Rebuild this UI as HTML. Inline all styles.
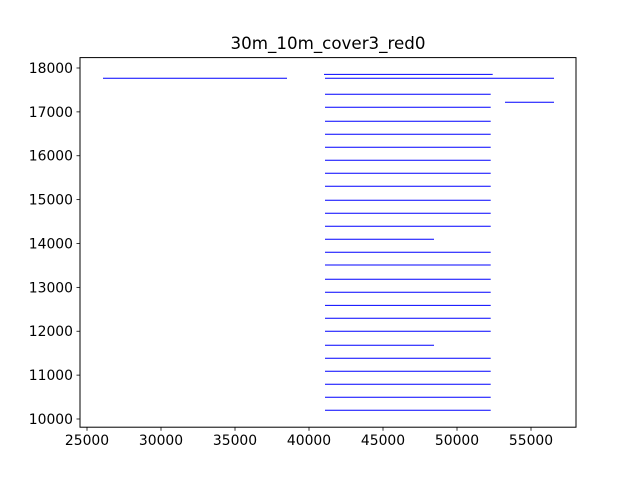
<!DOCTYPE html>
<html><head><meta charset="utf-8"><style>
body{margin:0;background:#fff;}
svg{display:block;font-family:"DejaVu Sans","Liberation Sans",sans-serif;}
</style></head><body>
<svg id="chart" width="640" height="480" viewBox="0 0 640 480">
<rect x="0" y="0" width="640" height="480" fill="#fff"/>
<text x="328" y="49" text-anchor="middle" font-size="16.7">30m_10m_cover3_red0</text>
<g id="marks"></g>
<g id="axes"></g>
</svg>
<script>
const segY = [17856,17765,17765,17401,17218,17104,16785,16489,16193,15896,15600,15304,14985,14689,14393,14096,13800,13510,13184,12888,12591,12295,11999,11680,11384,11088,10791,10495,10199];
const segX0 = [41014,26081,41081,41081,53243,41081,41081,41081,41081,41081,41081,41081,41081,41081,41081,41081,41081,41081,41081,41081,41081,41081,41081,41081,41081,41081,41081,41081,41081];
const segX1 = [52412,38514,56554,52277,56554,52277,52277,52277,52277,52277,52277,52277,52277,52277,52277,48446,52277,52277,52277,52277,52277,52277,52277,48446,52277,52277,52277,52277,52277];
const xTicks = [25000,30000,35000,40000,45000,50000,55000];
const yTicks = [10000,11000,12000,13000,14000,15000,16000,17000,18000];

const L=80,R=576,T=57.6,B=427.2;
const xmin=24527,xmax=58040,ymin=9813,ymax=18237;
const sx=v=>L+(v-xmin)/(xmax-xmin)*(R-L);
const sy=v=>B-(v-ymin)/(ymax-ymin)*(B-T);
const NS="http://www.w3.org/2000/svg";
const marks=document.getElementById('marks');
const axes=document.getElementById('axes');
function mk(tag,attrs,parent){const e=document.createElementNS(NS,tag);for(const k in attrs)e.setAttribute(k,attrs[k]);parent.appendChild(e);return e;}
segY.forEach((y,i)=>{
  const l=mk('line',{x1:sx(segX0[i]),x2:sx(segX1[i]),y1:sy(y),y2:sy(y),stroke:'#0000ff','stroke-width':1},marks);
  
  
});
const frame=mk('rect',{x:L,y:T,width:R-L,height:B-T,fill:'none',stroke:'#000','stroke-width':1},axes);


xTicks.forEach(v=>{
  const x=sx(v);
  const t=mk('line',{x1:x,x2:x,y1:B,y2:B+3.5,stroke:'#000','stroke-width':0.8},axes);
  
  
  const tx=mk('text',{x:x,y:B+18,'text-anchor':'middle','font-size':13.9},axes);
  tx.textContent=v;
  
  
});
yTicks.forEach(v=>{
  const y=sy(v);
  const t=mk('line',{x1:L-3.5,x2:L,y1:y,y2:y,stroke:'#000','stroke-width':0.8},axes);
  
  
  const tx=mk('text',{x:L-7,y:y+5,'text-anchor':'end','font-size':13.9},axes);
  tx.textContent=v;
  
  
});
</script>
</body></html>
